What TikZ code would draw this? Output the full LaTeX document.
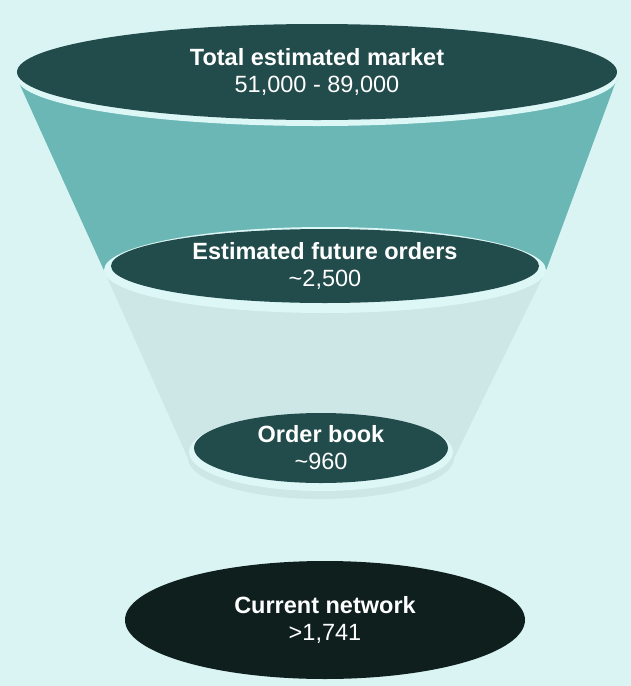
\documentclass[tikz,border=0pt]{standalone}
\usepackage{fontspec}
\setmainfont{Liberation Sans}
\usetikzlibrary{shapes.geometric,backgrounds}
\definecolor{bgcyan}{HTML}{DAF4F4}
\definecolor{rimcyan}{HTML}{DDF6F6}
\definecolor{funnelteal}{HTML}{6AB7B5}
\definecolor{funnelpale}{HTML}{CCE7E6}
\definecolor{darkteal}{HTML}{224C4B}
\definecolor{darkest}{HTML}{0E1F1E}

\begin{document}
\begin{tikzpicture}[
		x=1pt,y=-1pt,
		every node/.style={ellipse,inner sep=0pt,align=center,text=white,
			font=\fontsize{23.5}{27}\selectfont},
		rim/.style={fill=rimcyan},
		stage/.style={fill=darkteal}
		]
		\node[fill=funnelpale,minimum width=266pt,minimum height=82pt] (palebot) at (321,458) {};
		\node[rim,minimum width=600pt,minimum height=96pt] (toprim) at (317,78) {};
		\node[rim,minimum width=442pt,minimum height=86pt] (midrim) at (325,270) {};
		\node[rim,minimum width=264pt,minimum height=78pt] (bookrim) at (321,452) {};

		\node[stage,minimum width=600pt,minimum height=96pt] (market) at (317,72)
			{{\bfseries Total estimated market}\\51,000 - 89,000};
		\node[stage,minimum width=428pt,minimum height=74pt] (future) at (325,266)
			{{\bfseries Estimated future orders}\\\textasciitilde2,500};
		\node[stage,minimum width=254pt,minimum height=70pt] (book) at (321,448)
			{{\bfseries Order book}\\\textasciitilde960};
		\node[fill=darkest,minimum width=400pt,minimum height=118pt] (network) at (325,620)
			{{\bfseries Current network}\\>1,741};

		\begin{scope}[on background layer]
			\fill[bgcyan] (0,0) rectangle (631,686);
			\fill[funnelteal] (toprim.west) -- (toprim.east) -- (midrim.east) -- (midrim.west) -- cycle;
			\fill[funnelpale] (midrim.west) -- (midrim.east) -- (palebot.east) -- (palebot.west) -- cycle;
		\end{scope}
	\end{tikzpicture}
\end{document}
